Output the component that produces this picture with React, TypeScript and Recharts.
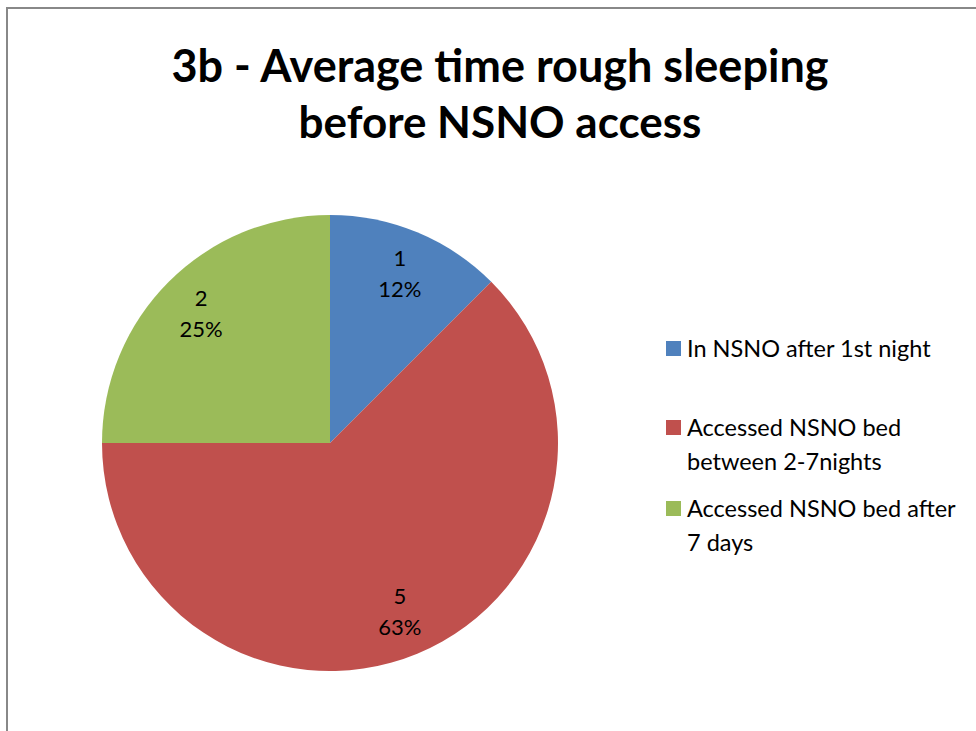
import React from "react";
import { PieChart, Pie, Cell } from "recharts";

const categories = [
  "In NSNO after 1st night",
  "Accessed NSNO bed between 2-7nights",
  "Accessed NSNO bed after 7 days",
];
const values = [1, 5, 2];
const percentLabels = ["12%", "63%", "25%"];
const colors = ["#4f81bd", "#c0504d", "#9bbb59"];
const legendLines = [
  ["In NSNO after 1st night"],
  ["Accessed NSNO bed", "between 2-7nights"],
  ["Accessed NSNO bed after", "7 days"],
];
const titleLines = ["3b - Average time rough sleeping", "before NSNO access"];

const data = categories.map((name, i) => ({ name, value: values[i], pct: percentLabels[i] }));

const FONT = "Lato, 'Open Sans', sans-serif";
const RAD = Math.PI / 180;

const renderLabel = (props: any) => {
  const { cx, cy, midAngle, outerRadius, index, value } = props;
  const r = outerRadius * 0.8;
  const x = cx + r * Math.cos(-midAngle * RAD);
  const y = cy + r * Math.sin(-midAngle * RAD);
  return (
    <text x={x} y={y} textAnchor="middle" fontFamily={FONT} fontSize={22} fill="#000">
      <tspan x={x} dy={-8}>{value}</tspan>
      <tspan x={x} dy={31}>{percentLabels[index]}</tspan>
    </text>
  );
};

export default function App() {
  return (
    <div style={{ position: "fixed", left: 0, top: 0, width: 976, height: 731, overflow: "hidden", background: "#fff" }}>
      <div
        style={{
          position: "absolute",
          left: 6,
          top: 7,
          width: 3000,
          height: 3000,
          borderLeft: "2px solid #888",
          borderTop: "2px solid #888",
        }}
      />
      <div
        style={{
          position: "absolute",
          left: 8,
          top: 37,
          width: 984,
          textAlign: "center",
          fontFamily: FONT,
          fontWeight: 700,
          fontSize: 45,
          lineHeight: "56px",
          color: "#000",
        }}
      >
        {titleLines.map((t, i) => (
          <div key={i} style={i === 1 ? { fontSize: 44 } : undefined}>{t}</div>
        ))}
      </div>
      <div style={{ position: "absolute", left: 0, top: 0 }}>
        <PieChart width={976} height={731} margin={{ top: 0, right: 0, bottom: 0, left: 0 }}>
          <Pie
            data={data}
            dataKey="value"
            nameKey="name"
            cx={330}
            cy={443}
            outerRadius={228}
            startAngle={90}
            endAngle={-270}
            stroke="none"
            isAnimationActive={false}
            labelLine={false}
            label={renderLabel}
          >
            {data.map((d, i) => (
              <Cell key={d.name} fill={colors[i]} />
            ))}
          </Pie>
        </PieChart>
      </div>
      <div style={{ position: "absolute", left: 666, top: 0, fontFamily: FONT, fontSize: 23.5, color: "#000" }}>
        {legendLines.map((lines, i) => {
          const tops = [331, 410, 491];
          return (
            <div key={i} style={{ position: "absolute", top: tops[i], left: 0, width: 320 }}>
              <div
                style={{ position: "absolute", left: 0, top: 10, width: 15, height: 15, background: colors[i] }}
              />
              <div style={{ position: "absolute", left: 21, top: 0, lineHeight: "34px", whiteSpace: "nowrap" }}>
                {lines.map((l, j) => (
                  <div key={j}>{l}</div>
                ))}
              </div>
            </div>
          );
        })}
      </div>
    </div>
  );
}
